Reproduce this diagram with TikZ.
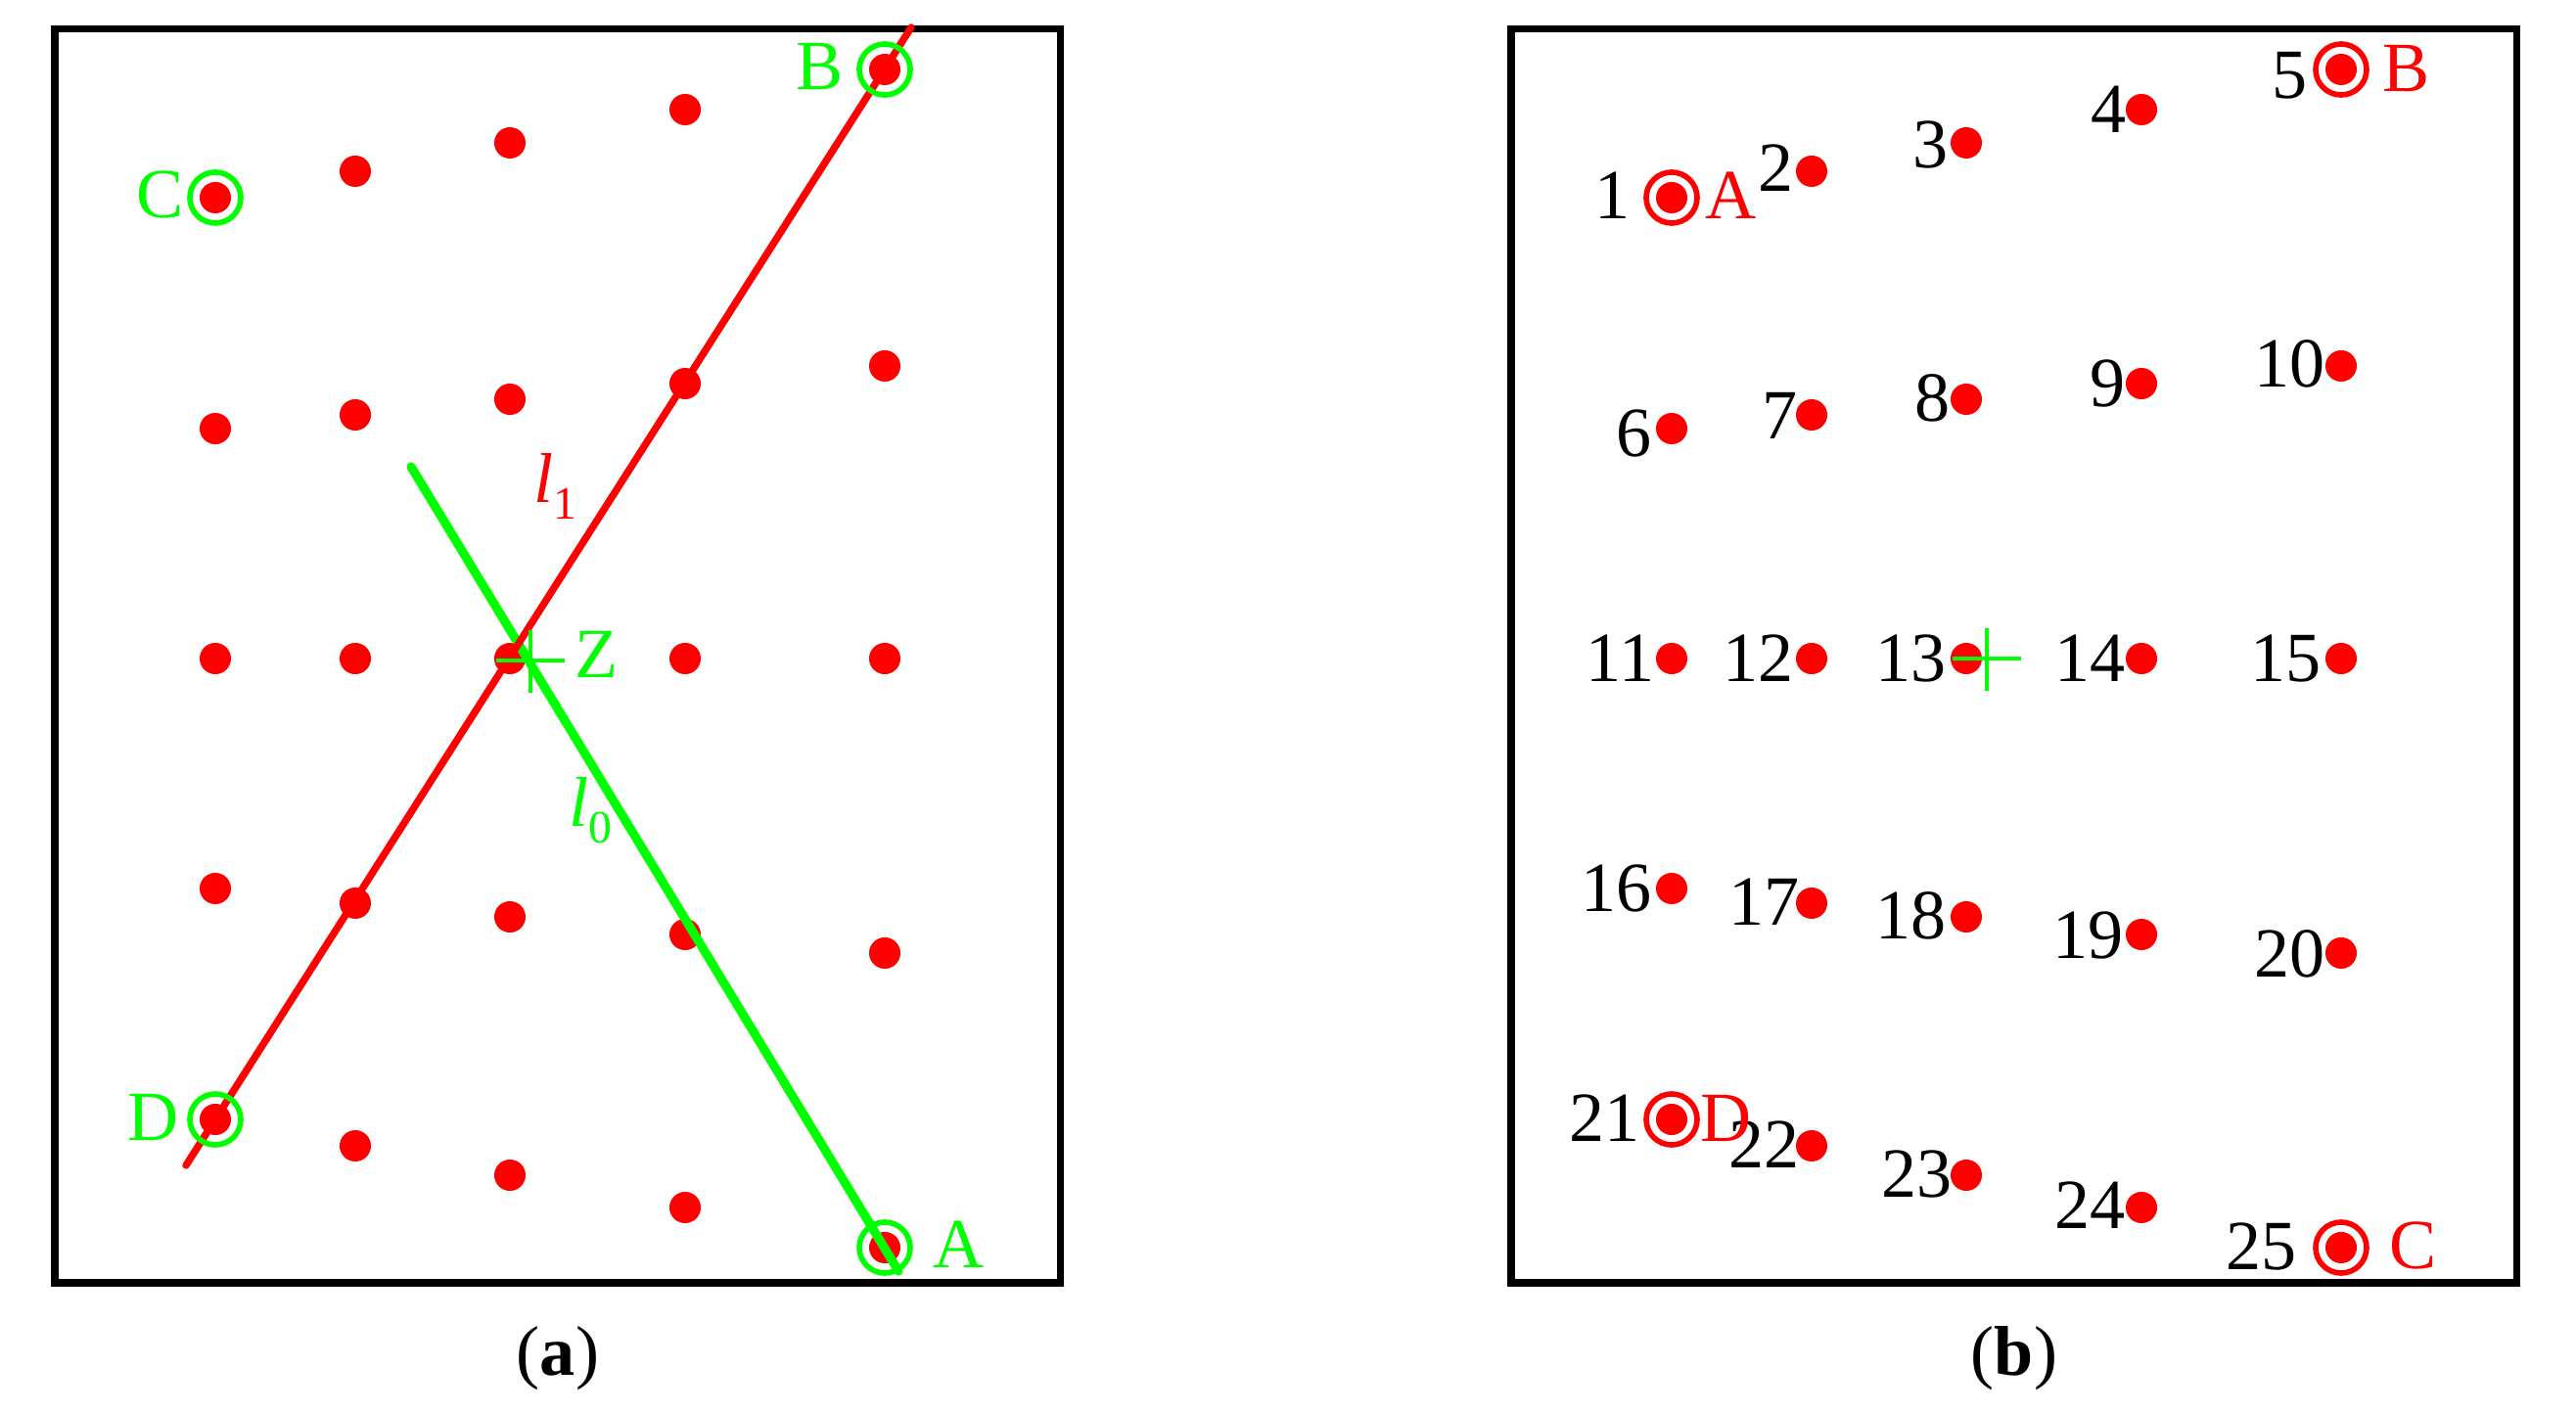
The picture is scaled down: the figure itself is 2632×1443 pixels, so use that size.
\documentclass[tikz,border=0pt]{standalone}
\usepackage{fontspec}
\setmainfont{Liberation Serif}
\usetikzlibrary{calc}
\definecolor{pr}{RGB}{255,0,0}
\definecolor{pg}{RGB}{0,255,0}
\newcommand{\lsub}[1]{\textit{l}\raisebox{-0.24em}{\fontsize{13.5}{14}\selectfont #1}}
\begin{document}
\begin{tikzpicture}[x=0.01cm,y=-0.01cm,
  font=\fontsize{20.5}{24}\selectfont,
  dot/.style={circle,fill=pr,draw=none,inner sep=0pt,minimum size=0.32cm},
  frame/.style={draw=black,line width=2pt},
  gring/.style={draw=pg,line width=1.6pt},
  rring/.style={draw=pr,line width=1.6pt},
  gline/.style={draw=pg,line width=2.6pt,line cap=round},
  rline/.style={draw=pr,line width=2.1pt,line cap=round},
  crossl/.style={draw=pg,line width=1.3pt},
  numlab/.style={inner sep=0pt,anchor=east,text=black},
  glab/.style={inner sep=0pt,text=pg},
  rlab/.style={inner sep=0pt,text=pr}]
\useasboundingbox (0,0) rectangle (2632,1443);
% frames
\draw[frame] (56,29.5) rectangle (1083.5,1311);
\draw[frame] (1544,29.5) rectangle (2571.5,1311);
% dots
\foreach \n/\x/\y in {1/220/202, 2/363/175, 3/521/146, 4/700/112, 5/904/71,
  6/220/438, 7/363/424, 8/521/408, 9/700/392, 10/904/374,
  11/220/673, 12/363/673, 13/521/673, 14/700/673, 15/904/673,
  16/220/908, 17/363/923, 18/521/937, 19/700/955, 20/904/974,
  21/220/1144, 22/363/1171, 23/521/1201, 24/700/1234, 25/904/1275}{
  \node[dot] (a\n) at (\x,\y) {};
  \node[dot] (b\n) at (\x+1488,\y) {};
}
% lines of panel (a)
\coordinate (l0s) at (420,477);
\coordinate (l0e) at (918,1299);
\coordinate (l1s) at (190,1191);
\coordinate (l1e) at (931,28);
\draw[gline] (l0s) -- (l0e);
\draw[rline] (l1s) -- (l1e);
% crosses
\coordinate (Za) at (542,675);
\coordinate (Zb) at (2030,673);
\foreach \z in {Za,Zb}{
  \draw[crossl] ($(\z)+(-35,0)$) -- ($(\z)+(35,0)$);
  \draw[crossl] ($(\z)+(0,-31)$) -- ($(\z)+(0,33)$);
}
% rings
\foreach \k in {1,5,21,25}{
  \draw[gring] (a\k.center) circle[radius=0.26cm];
  \draw[rring] (b\k.center) circle[radius=0.26cm];
}
% panel (a) labels
\node[glab,anchor=east] (lc) at ($(a1.center)+(-32,-3)$) {C};
\node[glab,anchor=east] (lb) at ($(a5.center)+(-42,-3)$) {B};
\node[glab,anchor=east] (ld) at ($(a21.center)+(-37,-2)$) {D};
\node[glab,anchor=west] (la) at ($(a25.center)+(49,-3)$) {A};
\node[glab,anchor=west] (lz) at ($(Za)+(45,-6)$) {Z};
\node[rlab] (ll1) at (567,497) {\lsub{1}};
\node[glab] (ll0) at (603,828) {\lsub{0}};
% panel (b) labels
\foreach \n/\dx/\dy in {1/-42/-2, 2/-18/-3, 3/-18/2, 4/-15/0, 5/-34/6,
  6/-20/5, 7/-14/1, 8/-16/-1, 9/-16/0, 10/-16/-2,
  11/-17/0, 12/-18/0, 13/-20/0, 14/-16/0, 15/-20/0,
  16/-20/0, 17/-12/-1, 18/-20/-1, 19/-18/1, 20/-16/1,
  21/-32/-1, 22/-12/-1, 23/-14/-1, 24/-16/-2, 25/-45/-1}{
  \node[numlab] (n\n) at ($(b\n.center)+(\dx,\dy)$) {\n};
}
\node[rlab,anchor=west] (rA) at ($(b1.center)+(34,-2)$) {A};
\node[rlab,anchor=west] (rB) at ($(b5.center)+(42,-1)$) {B};
\node[rlab,anchor=west] (rD) at ($(b21.center)+(29,-1)$) {D};
\node[rlab,anchor=west] (rC) at ($(b25.center)+(49,-2)$) {C};
% captions
\node (capa) at (570,1388) {(\textbf{a})};
\node (capb) at (2058,1388) {(\textbf{b})};
\end{tikzpicture}
\end{document}
